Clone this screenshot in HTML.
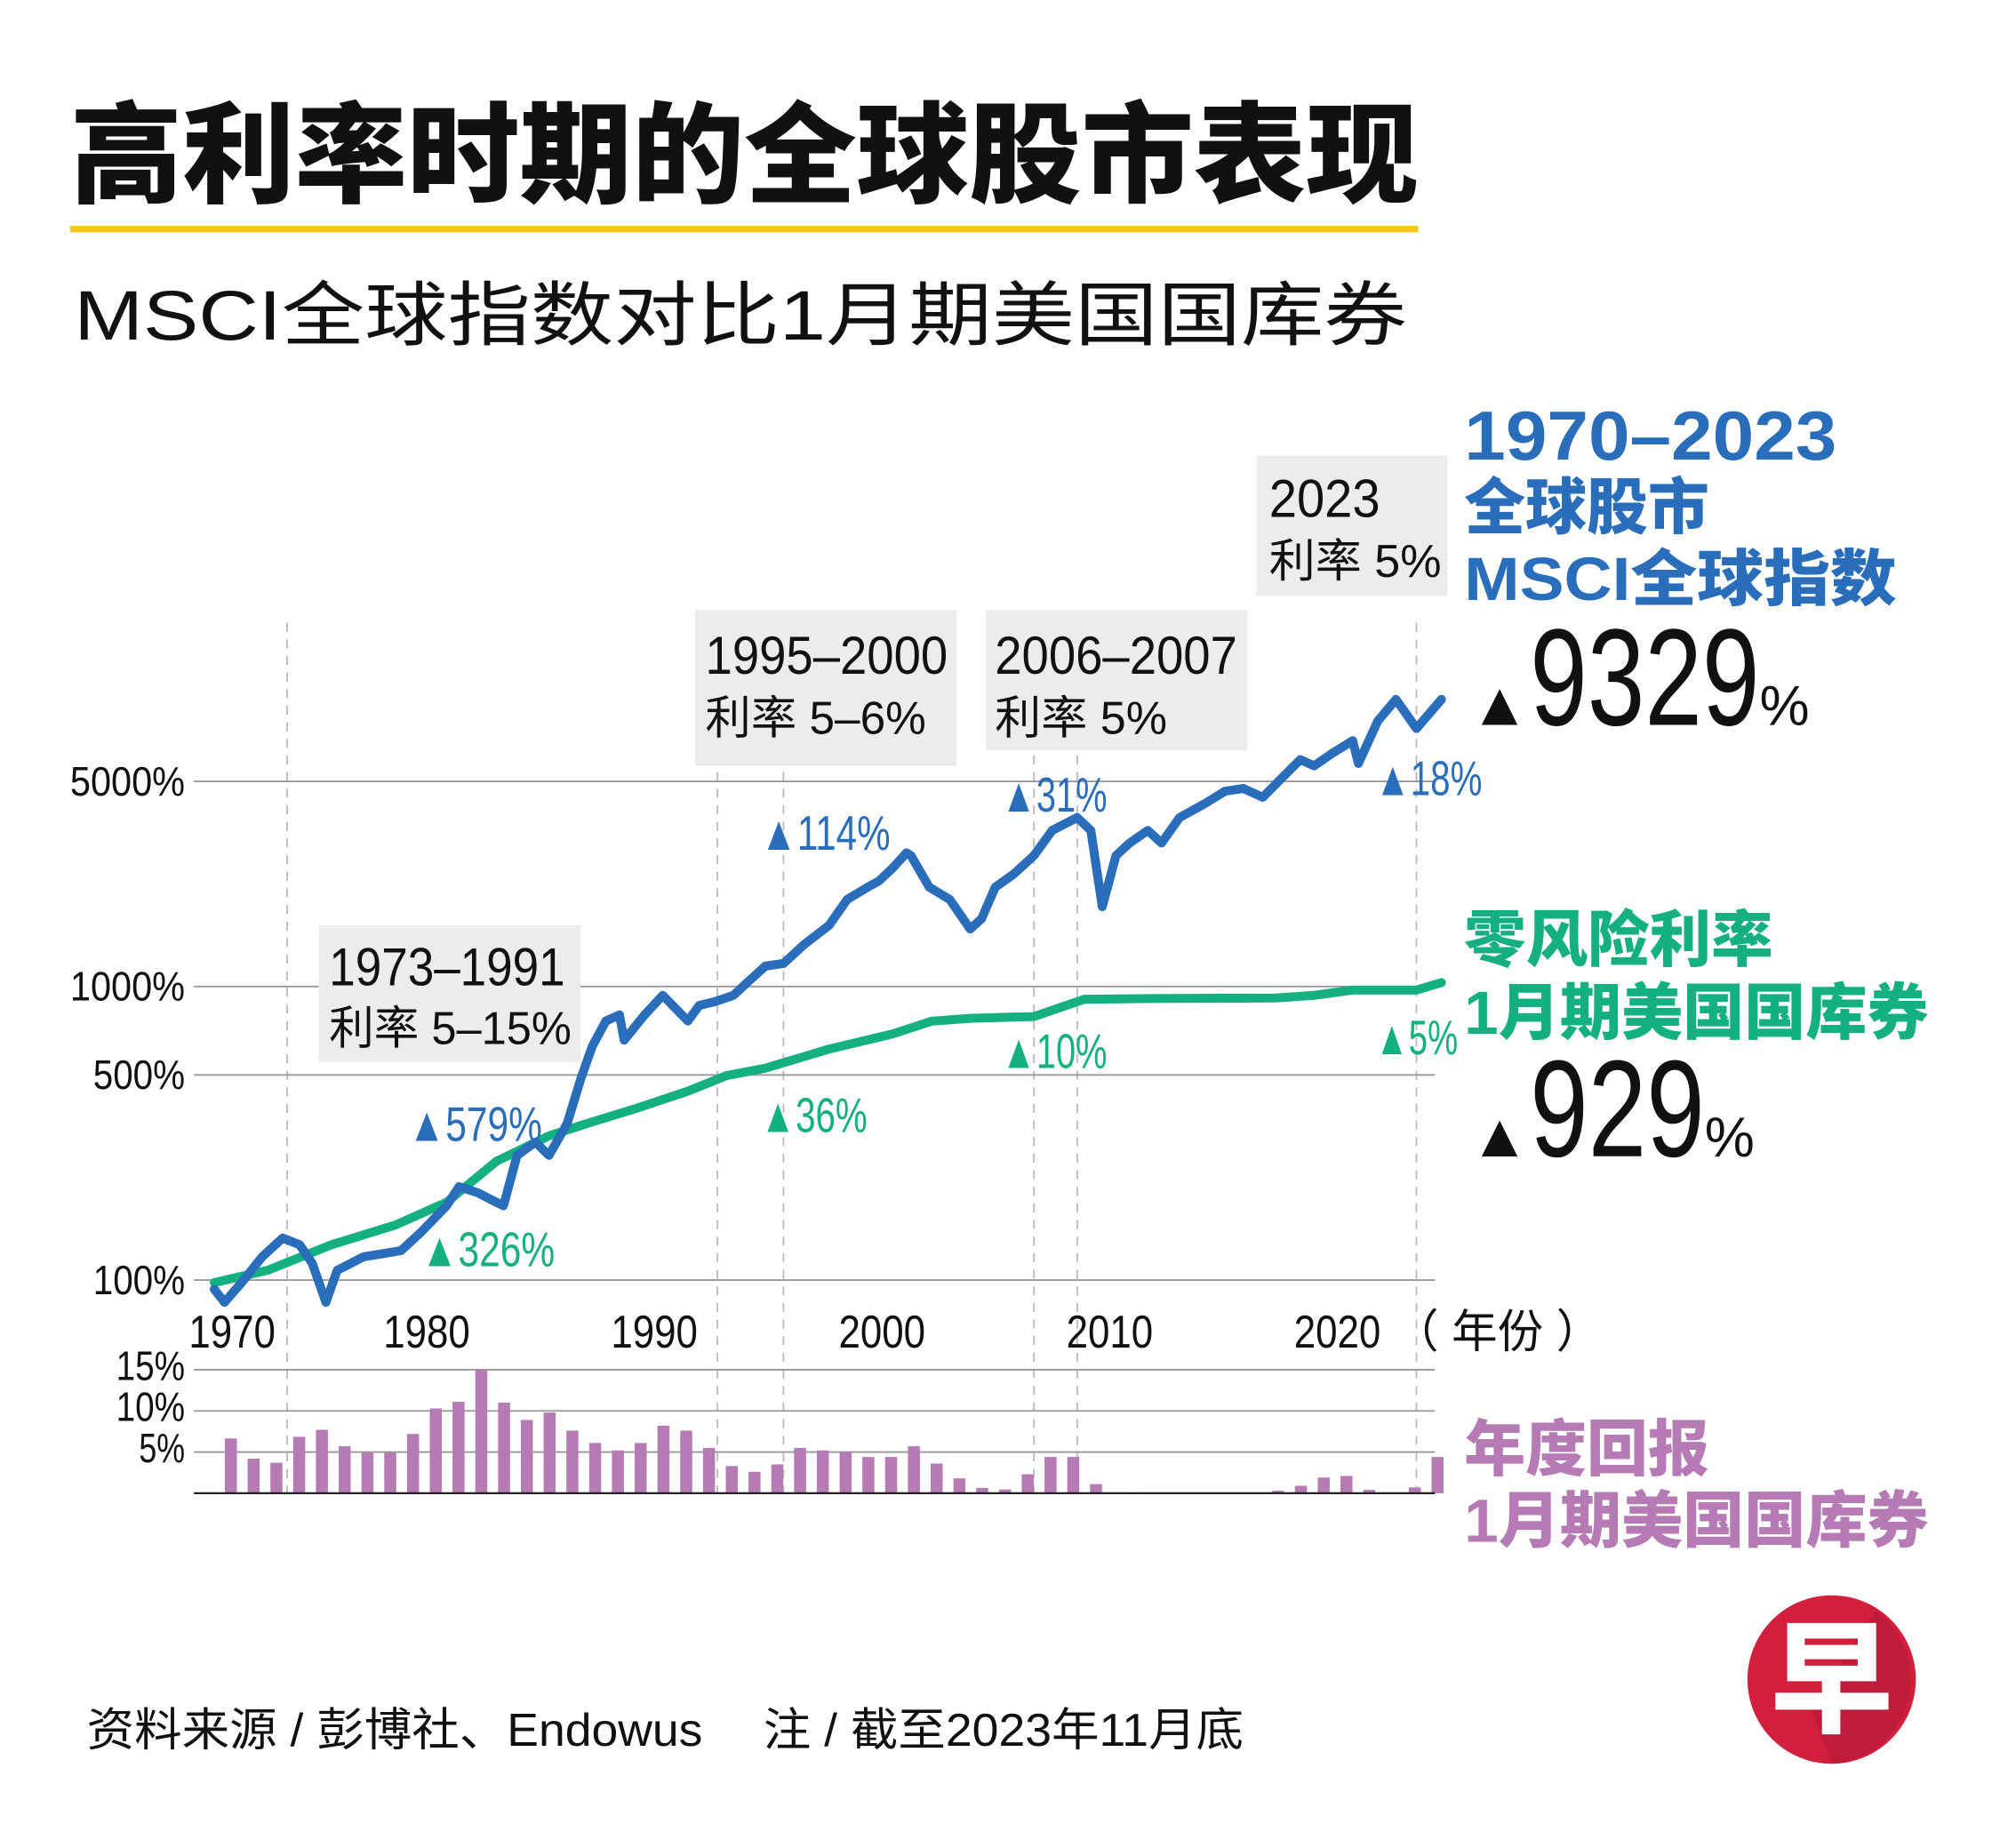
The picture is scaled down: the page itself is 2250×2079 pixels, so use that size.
<!DOCTYPE html>
<html><head><meta charset="utf-8"><style>
html,body{margin:0;padding:0;background:#fff;}
svg{display:block;}
text{font-family:"Liberation Sans","Noto Sans CJK SC",sans-serif;}
</style></head><body>
<svg id="chart" width="2250" height="2079" viewBox="0 0 1568 1448" preserveAspectRatio="none" xmlns="http://www.w3.org/2000/svg">
<rect x="0" y="0" width="1568" height="1448" fill="#fff"/>
<text x="55" y="152" font-size="86" font-weight="900" fill="#111" textLength="1057" lengthAdjust="spacingAndGlyphs">高利率时期的全球股市表现</text>
<rect x="55" y="177" width="1057" height="5" fill="#f5c41a"/>
<text x="58" y="266" font-size="55" fill="#111" textLength="1045" lengthAdjust="spacingAndGlyphs">MSCI全球指数对比1月期美国国库券</text>

<g id="grid"></g>
<g id="annot">
  <rect x="250" y="725" width="205" height="107" fill="#ececec"/>
  <text x="258" y="772" font-size="42" fill="#111" textLength="185" lengthAdjust="spacingAndGlyphs">1973–1991</text>
  <text x="258" y="818" font-size="36" fill="#111" textLength="190" lengthAdjust="spacingAndGlyphs">利率 5–15%</text>
  <rect x="545" y="478" width="205" height="122" fill="#ececec"/>
  <text x="553" y="528" font-size="42" fill="#111" textLength="190" lengthAdjust="spacingAndGlyphs">1995–2000</text>
  <text x="553" y="575" font-size="36" fill="#111" textLength="173" lengthAdjust="spacingAndGlyphs">利率 5–6%</text>
  <rect x="773" y="478" width="205" height="110" fill="#ececec"/>
  <text x="780" y="528" font-size="42" fill="#111" textLength="190" lengthAdjust="spacingAndGlyphs">2006–2007</text>
  <text x="780" y="575" font-size="36" fill="#111" textLength="135" lengthAdjust="spacingAndGlyphs">利率 5%</text>
  <rect x="985" y="357" width="150" height="110" fill="#ececec"/>
  <text x="995" y="405" font-size="42" fill="#111" textLength="87" lengthAdjust="spacingAndGlyphs">2023</text>
  <text x="995" y="452" font-size="36" fill="#111" textLength="135" lengthAdjust="spacingAndGlyphs">利率 5%</text>
</g>
<g id="plot"></g>
<g id="labels">
  <text x="320" y="894" font-size="38" fill="#2a6ebb" textLength="105" lengthAdjust="spacingAndGlyphs">▲579%</text>
  <text x="330" y="992" font-size="38" fill="#14b07f" textLength="105" lengthAdjust="spacingAndGlyphs">▲326%</text>
  <text x="596" y="666" font-size="38" fill="#2a6ebb" textLength="102" lengthAdjust="spacingAndGlyphs">▲114%</text>
  <text x="596" y="887" font-size="38" fill="#14b07f" textLength="84" lengthAdjust="spacingAndGlyphs">▲36%</text>
  <text x="785" y="636" font-size="38" fill="#2a6ebb" textLength="83" lengthAdjust="spacingAndGlyphs">▲31%</text>
  <text x="785" y="837" font-size="38" fill="#14b07f" textLength="83" lengthAdjust="spacingAndGlyphs">▲10%</text>
  <text x="1078" y="623" font-size="38" fill="#2a6ebb" textLength="84" lengthAdjust="spacingAndGlyphs">▲18%</text>
  <text x="1078" y="826" font-size="38" fill="#14b07f" textLength="65" lengthAdjust="spacingAndGlyphs">▲5%</text>
</g>
<g id="legend">
  <text x="1148" y="360" font-size="54" font-weight="900" fill="#2a6ebb" textLength="292" lengthAdjust="spacingAndGlyphs">1970–2023</text>
  <text x="1148" y="414" font-size="48" font-weight="900" fill="#2a6ebb" textLength="192" lengthAdjust="spacingAndGlyphs">全球股市</text>
  <text x="1148" y="470" font-size="48" font-weight="900" fill="#2a6ebb" textLength="339" lengthAdjust="spacingAndGlyphs">MSCI全球指数</text>
  <text x="1152" y="568" fill="#111"><tspan font-size="48">▲</tspan><tspan font-size="108" textLength="180" lengthAdjust="spacingAndGlyphs">9329</tspan><tspan font-size="44">%</tspan></text>
  <text x="1148" y="753" font-size="48" font-weight="900" fill="#14b07f" textLength="242" lengthAdjust="spacingAndGlyphs">零风险利率</text>
  <text x="1148" y="810" font-size="48" font-weight="900" fill="#14b07f" textLength="364" lengthAdjust="spacingAndGlyphs">1月期美国国库券</text>
  <text x="1152" y="906" fill="#111"><tspan font-size="48">▲</tspan><tspan font-size="108" textLength="137" lengthAdjust="spacingAndGlyphs">929</tspan><tspan font-size="44">%</tspan></text>
  <text x="1148" y="1152" font-size="48" font-weight="900" fill="#b67ab5" textLength="192" lengthAdjust="spacingAndGlyphs">年度回报</text>
  <text x="1148" y="1208" font-size="48" font-weight="900" fill="#b67ab5" textLength="364" lengthAdjust="spacingAndGlyphs">1月期美国国库券</text>
</g>
<text x="68" y="1368" font-size="36" fill="#111" textLength="907" lengthAdjust="spacingAndGlyphs">资料来源 / 彭博社、Endowus　 注 / 截至2023年11月底</text>
<g>
  <circle cx="1436" cy="1316" r="66" fill="#d21f3c"/>
  <path d="M1470 1262 A66 66 0 0 1 1436 1382 L1420 1340 Z" fill="#b11b35" opacity="0.6"/>
  <text x="1436" y="1350" font-size="96" font-weight="900" fill="#fff" text-anchor="middle" font-family="'Noto Sans CJK SC',sans-serif">早</text>
</g>
</svg>
<script>
// ---- data ----
const msciYears = [1970,1970.45,1971.2,1972.1,1973.0,1973.75,1974.3,1974.9,1975.4,1976.0,1976.55,1977.4,1978.2,1979.1,1980.2,1980.75,1981.6,1982.15,1982.7,1983.3,1984.1,1984.7,1985.5,1986.1,1986.6,1987.2,1987.8,1988.0,1988.9,1989.7,1990.8,1991.3,1992.0,1992.8,1993.4,1994.2,1995.0,1995.9,1997.0,1997.8,1998.7,1999.2,1999.8,2000.4,2000.6,2001.4,2002.3,2003.2,2003.7,2004.3,2005.1,2006.0,2006.8,2007.9,2008.5,2009.0,2009.6,2010.2,2011.0,2011.6,2012.4,2013.5,2014.4,2015.2,2016.05,2016.9,2017.7,2018.3,2019.1,2020.0,2020.25,2021.1,2021.9,2022.8,2023.9];
const msciValues = [93,84,98,120,139,132,114,84,108,114,120,123,126,146,179,208,198,188,179,266,295,266,342,486,625,763,801,657,801,933,763,862,889,933,1031,1174,1199,1389,1617,1979,2182,2292,2534,2853,2794,2182,1979,1570,1700,2182,2412,2794,3403,3764,3403,1872,2794,3081,3403,3081,3764,4196,4633,4730,4413,5143,5930,5646,6229,6877,5757,8012,9513,7571,9513];
const tbillYears = [1970,1972.35,1975.15,1977.95,1980.2,1982.4,1984.7,1986.4,1988.6,1990.8,1992.5,1994.2,1997.0,1999.8,2001.5,2003.2,2004.8,2006.0,2008.2,2011.0,2016.6,2018.3,2020.0,2022.8,2023.9];
const tbillValues = [98,108,132,154,184,254,310,342,386,440,497,527,612,690,762,779,786,790,905,910,914,933,972,972,1032];
const barYears = [1970,1971,1972,1973,1974,1975,1976,1977,1978,1979,1980,1981,1982,1983,1984,1985,1986,1987,1988,1989,1990,1991,1992,1993,1994,1995,1996,1997,1998,1999,2000,2001,2002,2003,2004,2005,2006,2007,2008,2009,2010,2011,2012,2013,2014,2015,2016,2017,2018,2019,2020,2021,2022,2023];
const barValues = [6.65,4.2,3.7,6.85,7.7,5.7,4.9,4.9,7.2,10.3,11.1,15.0,11.0,8.9,9.8,7.6,6.1,5.2,6.1,8.2,7.6,5.5,3.3,2.6,3.5,5.5,5.2,5.0,4.4,4.4,5.7,3.6,1.8,0.65,0.45,2.3,4.4,4.4,1.1,0.1,0.1,0.05,0.05,0.05,0.05,0.05,0.3,0.9,1.9,2.1,0.4,0.05,0.7,4.4];
const yTicks = [100,500,1000,5000];
const yTickLabels = ["100%","500%","1000%","5000%"];
const barTicks = [5,10,15];
const barTickLabels = ["5%","10%","15%"];
const xTicks = [1970,1980,1990,2000,2010,2020];
const xTickLabels = ["1970","1980","1990","2000","2010","2020"];
const dashYears = [1973.2,1992.1,1995.0,2006.0,2007.9,2022.8];

// ---- scales ----
const NS='http://www.w3.org/2000/svg';
const X0=152, X1=1125;
function x(yr){return 168+17.85*(yr-1970);}
function y(v){return 1003-230*(Math.log10(v)-2);}
function yb(p){return 1170-6.45*p;}
function mk(tag,attrs,parent){const e=document.createElementNS(NS,tag);for(const k in attrs)e.setAttribute(k,attrs[k]);parent.appendChild(e);return e;}
const grid=document.getElementById('grid'), plot=document.getElementById('plot');

dashYears.forEach(d=>{
  const l=mk('line',{x1:x(d),x2:x(d),y1:488,y2:1170,stroke:'#bbb','stroke-width':1.3,'stroke-dasharray':'7 6'},grid);
  
  
});
yTicks.forEach((t,i)=>{
  const l=mk('line',{x1:X0,x2:X1,y1:y(t),y2:y(t),stroke:'#999','stroke-width':1.3},grid);
  
  
  const tx=mk('text',{x:145,y:y(t)+11,'font-size':32,'text-anchor':'end',fill:'#111',textLength:yTickLabels[i].length*18,lengthAdjust:'spacingAndGlyphs'},grid);
  tx.textContent=yTickLabels[i];
  
  
});
barTicks.forEach((t,i)=>{
  const l=mk('line',{x1:X0,x2:X1,y1:yb(t),y2:yb(t),stroke:'#999','stroke-width':1.3},grid);
  
  
  const tx=mk('text',{x:145,y:yb(t)+8,'font-size':32,'text-anchor':'end',fill:'#111',textLength:barTickLabels[i].length*18,lengthAdjust:'spacingAndGlyphs'},grid);
  tx.textContent=barTickLabels[i];
  
  
});
xTicks.forEach((t,i)=>{
  const tx=mk('text',{x:x(t)+(i===0?14:-12),y:1056,'font-size':36,'text-anchor':'middle',fill:'#111',textLength:68,lengthAdjust:'spacingAndGlyphs'},grid);
  tx.textContent=xTickLabels[i];
  
  
});
const unit=mk('text',{x:1092,y:1056,'font-size':36,fill:'#111'},grid);
unit.textContent='（ 年份 ）';



barYears.forEach((yr,i)=>{
  const b=mk('rect',{x:x(yr)+13-4.7,y:yb(barValues[i]),width:9.4,height:1170-yb(barValues[i]),fill:'#b67ab5'},plot);
  
  
});
const base=mk('line',{x1:X0,x2:X1,y1:1170,y2:1170,stroke:'#222','stroke-width':1.6},plot);



function path(xs,vs){return xs.map((yr,i)=>(i?'L':'M')+x(yr).toFixed(1)+' '+y(vs[i]).toFixed(1)).join(' ');}
const g=mk('path',{d:path(tbillYears,tbillValues),fill:'none',stroke:'#14b07f','stroke-width':7,'stroke-linejoin':'round','stroke-linecap':'round'},plot);


const b=mk('path',{d:path(msciYears,msciValues),fill:'none',stroke:'#2a6ebb','stroke-width':7,'stroke-linejoin':'round','stroke-linecap':'round'},plot);


</script>
</body></html>
